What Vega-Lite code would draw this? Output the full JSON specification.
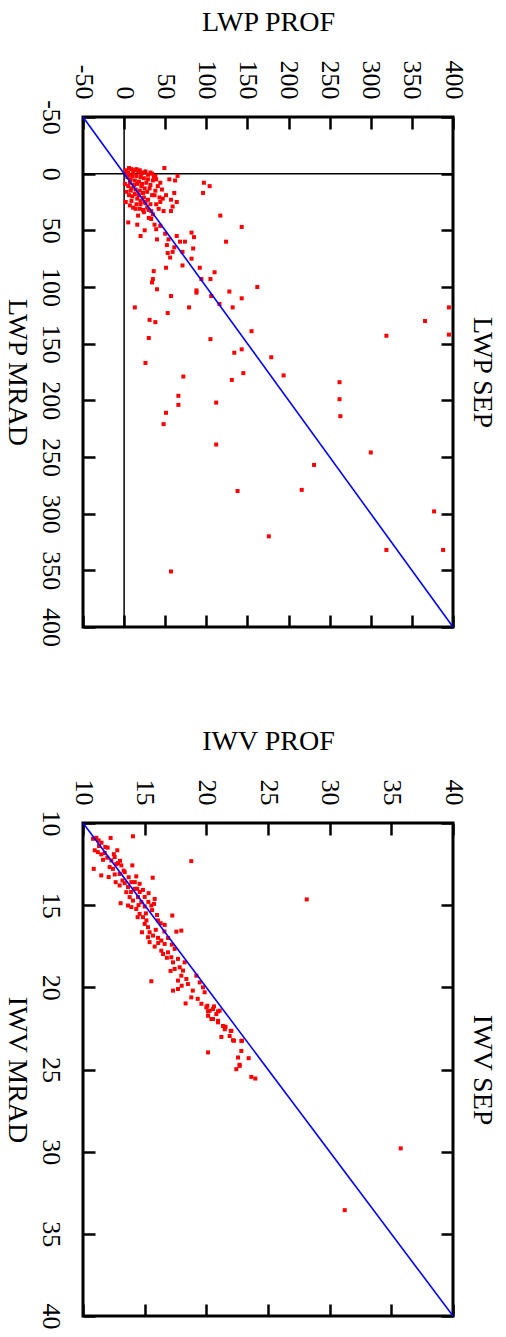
{
  "$schema": "https://vega.github.io/schema/vega-lite/v6.json",
  "padding": {"left": 0, "top": 6, "right": 6, "bottom": 0},
  "background": "white",
  "spacing": 77,
  "config": {
    "font": "Liberation Serif",
    "view": {"stroke": "black", "strokeWidth": 3},
    "axis": {
      "domain": false, "grid": false, "tickColor": "black", "tickWidth": 2.5, "tickSize": -12,
      "labelFontSize": 26, "labelColor": "black", "labelFont": "Liberation Serif",
      "titleFontSize": 28, "titleFontWeight": "normal", "titleColor": "black", "titleFont": "Liberation Serif",
      "labelFlush": false, "labelOverlap": false,
      "labelExpr": "datum.value < 0 ? '-' + abs(datum.value) : '' + datum.value"
    }
  },
  "datasets": {
    "zero": [{"v": 0}],
    "lwpDiag": [{"v": -50}, {"v": 400}],
    "iwvDiag": [{"v": 10}, {"v": 40}],
    "lwp": [
      {"p":30,"m":145},{"p":105,"m":146},{"p":155,"m":139},{"p":319,"m":143},{"p":395,"m":142},{"p":26,"m":167},{"p":134,"m":158},{"p":143,"m":155},{"p":179,"m":162},{"p":72,"m":179},{"p":131,"m":182},{"p":145,"m":176},{"p":194,"m":178},{"p":262,"m":184},{"p":262,"m":199},{"p":263,"m":214},{"p":66,"m":196},{"p":66,"m":204},{"p":112,"m":202},{"p":51,"m":211},{"p":48,"m":221},{"p":112,"m":239},{"p":300,"m":246},{"p":231,"m":257},{"p":138,"m":280},{"p":216,"m":279},{"p":377,"m":298},{"p":176,"m":320},{"p":319,"m":332},{"p":388,"m":332},{"p":57,"m":351},{"p":395,"m":118},{"p":366,"m":130},
      {"p":49,"m":-5},{"p":97,"m":8},{"p":104,"m":11},{"p":96,"m":17},{"p":55,"m":5},{"p":62,"m":6},{"p":65,"m":2},{"p":61,"m":17},{"p":117,"m":37},{"p":143,"m":47},{"p":124,"m":60},{"p":162,"m":100},{"p":143,"m":110},
      {"p":82,"m":52},{"p":85,"m":56},{"p":84,"m":66},{"p":64,"m":55},{"p":68,"m":60},{"p":74,"m":60},{"p":52,"m":63},{"p":61,"m":65},{"p":59,"m":69},{"p":53,"m":70},{"p":71,"m":69},{"p":56,"m":74},{"p":82,"m":75},{"p":71,"m":81},{"p":92,"m":83},{"p":110,"m":87},{"p":51,"m":83},{"p":36,"m":86},{"p":35,"m":93},{"p":34,"m":96},{"p":40,"m":102},{"p":57,"m":108},{"p":88,"m":103},{"p":88,"m":105},{"p":94,"m":93},{"p":105,"m":93},{"p":106,"m":108},{"p":116,"m":115},{"p":132,"m":118},{"p":128,"m":104},{"p":79,"m":118},{"p":53,"m":123},{"p":13,"m":118},{"p":31,"m":129},{"p":38,"m":131},
      {"p":40,"m":58},{"p":50,"m":53},{"p":54,"m":58},{"p":39,"m":49},{"p":44,"m":46},{"p":37,"m":45},{"p":25,"m":50},{"p":20,"m":55},{"p":5,"m":43},{"p":16,"m":45},{"p":30,"m":39},{"p":17,"m":37},{"p":23,"m":32},{"p":14,"m":31},{"p":20,"m":27},{"p":25,"m":25},{"p":30,"m":32},{"p":35,"m":36},{"p":33,"m":40},{"p":48,"m":33},{"p":57,"m":33},{"p":59,"m":29},{"p":64,"m":25},{"p":57,"m":23},{"p":51,"m":19},{"p":47,"m":22},{"p":39,"m":27},{"p":37,"m":19},{"p":41,"m":11},{"p":39,"m":5},{"p":38,"m":2},{"p":34,"m":0},{"p":23,"m":-1},{"p":17,"m":-2},{"p":6,"m":-5},{"p":12,"m":-3},{"p":3,"m":-1},
      {"p":2,"m":-3},{"p":5,"m":-1},{"p":9,"m":-4},{"p":11,"m":-1},{"p":15,"m":-4},{"p":19,"m":-3},{"p":21,"m":0},{"p":26,"m":-2},{"p":29,"m":1},{"p":32,"m":-1},{"p":36,"m":3},
      {"p":4,"m":3},{"p":6,"m":1},{"p":8,"m":5},{"p":10,"m":2},{"p":13,"m":6},{"p":15,"m":2},{"p":18,"m":7},{"p":20,"m":3},{"p":22,"m":9},{"p":24,"m":4},{"p":27,"m":8},{"p":29,"m":5},{"p":32,"m":10},{"p":35,"m":6},{"p":44,"m":8},
      {"p":1,"m":9},{"p":5,"m":11},{"p":7,"m":8},{"p":9,"m":13},{"p":12,"m":10},{"p":14,"m":14},{"p":16,"m":9},{"p":19,"m":15},{"p":21,"m":11},{"p":23,"m":17},{"p":25,"m":13},{"p":28,"m":16},{"p":31,"m":13},{"p":34,"m":19},{"p":38,"m":15},{"p":43,"m":21},{"p":46,"m":14},
      {"p":3,"m":16},{"p":6,"m":19},{"p":8,"m":15},{"p":10,"m":20},{"p":13,"m":18},{"p":16,"m":22},{"p":18,"m":19},{"p":20,"m":24},{"p":24,"m":21},{"p":26,"m":26},{"p":29,"m":23},{"p":32,"m":27},{"p":44,"m":25},
      {"p":2,"m":25},{"p":7,"m":28},{"p":9,"m":24},{"p":11,"m":30},{"p":15,"m":27},{"p":19,"m":31},{"p":24,"m":34},{"p":28,"m":30},{"p":33,"m":33},{"p":42,"m":31}
    ],
    "iwv": [
      {"p":10.81,"m":10.96},{"p":11.08,"m":10.9},{"p":11.27,"m":11.06},{"p":12.24,"m":10.91},{"p":14.05,"m":10.81},{"p":10.95,"m":11.66},{"p":11.2,"m":11.77},{"p":11.48,"m":11.91},{"p":11.76,"m":11.83},{"p":11.97,"m":12.11},{"p":11.62,"m":12.24},{"p":12.3,"m":12.28},{"p":12.57,"m":12.07},{"p":12.78,"m":11.66},{"p":11.81,"m":11.46},{"p":11.3,"m":11.4},{"p":12.84,"m":12.44},{"p":13.11,"m":12.58},{"p":12.16,"m":12.68},{"p":12.43,"m":12.79},{"p":10.87,"m":12.79},{"p":11.48,"m":13.19},{"p":12.08,"m":13.29},{"p":12.57,"m":13.13},{"p":12.97,"m":13.1},{"p":13.38,"m":12.99},{"p":14,"m":12.58},{"p":14.32,"m":13.25},{"p":15.65,"m":13.33},{"p":18.78,"m":12.32},{"p":12.65,"m":13.6},{"p":12.97,"m":13.8},{"p":13.38,"m":13.66},{"p":13.65,"m":13.9},{"p":13.92,"m":13.6},{"p":14.19,"m":14.01},{"p":14.59,"m":13.7},{"p":14.86,"m":14.07},{"p":15.32,"m":14.27},{"p":13.51,"m":14.21},{"p":13.78,"m":14.51},{"p":14.05,"m":14.72},{"p":15.81,"m":14.62},{"p":15.76,"m":14.92},{"p":14.46,"m":14.51},{"p":14.73,"m":14.82},{"p":13.05,"m":14.88},{"p":13.65,"m":15.02},{"p":13.92,"m":15.12},{"p":14.32,"m":15.23},{"p":15,"m":15.08},{"p":15.54,"m":15.02},{"p":14.59,"m":15.53},{"p":14.86,"m":15.73},{"p":14.43,"m":15.73},{"p":15.14,"m":15.93},{"p":16.08,"m":15.93},{"p":17.24,"m":15.63},{"p":16.62,"m":16.2},{"p":15,"m":16.14},{"p":15.27,"m":16.34},{"p":15.4,"m":16.65},{"p":14.78,"m":16.65},{"p":17.57,"m":16.61},{"p":17.97,"m":16.55},{"p":15.27,"m":16.95},{"p":15.68,"m":16.85},{"p":16.08,"m":16.99},{"p":16.35,"m":17.15},{"p":15.4,"m":17.25},{"p":16.62,"m":17.36},{"p":15.81,"m":17.52},{"p":16.35,"m":17.77},{"p":16.49,"m":17.97},{"p":16.89,"m":17.87},{"p":17.16,"m":18.17},{"p":17.43,"m":17.66},{"p":17.3,"m":18.48},{"p":17.7,"m":18.27},{"p":17.43,"m":18.88},{"p":17.84,"m":18.78},{"p":18.11,"m":18.98},{"p":18.24,"m":18.48},{"p":17.97,"m":19.29},{"p":17.7,"m":19.59},{"p":18.38,"m":19.49},{"p":18.51,"m":19.8},{"p":19.19,"m":19.29},{"p":19.46,"m":19.7},{"p":19.73,"m":20},{"p":17.3,"m":20.2},{"p":17.7,"m":20.1},{"p":15.54,"m":19.63},{"p":18.78,"m":20.61},{"p":19.86,"m":20.3},{"p":18.32,"m":20.98},{"p":20,"m":21.22},{"p":20.27,"m":21.42},{"p":20.54,"m":21.32},{"p":20.14,"m":21.73},{"p":20.41,"m":21.93},{"p":20.81,"m":21.63},{"p":20.95,"m":22.04},{"p":21.08,"m":21.42},{"p":21.35,"m":22.35},{"p":21.49,"m":22.55},{"p":22.03,"m":22.65},{"p":21.89,"m":22.96},{"p":22.16,"m":23.22},{"p":21.22,"m":23.02},{"p":22.84,"m":23.26},{"p":22.84,"m":23.87},{"p":22.57,"m":24.27},{"p":23.43,"m":24.31},{"p":22.7,"m":24.71},{"p":20.14,"m":23.96},{"p":22.43,"m":24.98},{"p":22.7,"m":24.78},{"p":23.65,"m":25.45},{"p":23.97,"m":25.55},{"p":22.24,"m":23.25},{"p":22.89,"m":23.25},{"p":21.98,"m":22.65},{"p":21.56,"m":22.4},{"p":20.95,"m":22.13},{"p":20.54,"m":21.93},{"p":20.14,"m":21.46},{"p":20.95,"m":21.46},{"p":20.08,"m":21.12},{"p":20.62,"m":21.16},{"p":35.76,"m":29.8},{"p":31.22,"m":33.56},{"p":28.14,"m":14.65},
      {"p":11.5,"m":11.2},{"p":12,"m":11.5},{"p":12.5,"m":11.9},{"p":13,"m":12.3},{"p":13.3,"m":12.9},{"p":13.7,"m":13.3},{"p":14.2,"m":13.6},{"p":14.6,"m":14.2},{"p":15,"m":14.5},{"p":15.3,"m":14.8},{"p":15.6,"m":15.3},{"p":16,"m":15.6},{"p":16.3,"m":16.1},{"p":16.6,"m":16.6},{"p":16.9,"m":17},{"p":17.2,"m":17.4},{"p":12.7,"m":12.5},{"p":13.9,"m":14.2},{"p":14.5,"m":15},{"p":15.1,"m":15.5},{"p":15.9,"m":16.5},{"p":16.1,"m":17.3},{"p":16.8,"m":18.2},{"p":17.1,"m":19},{"p":18,"m":19.9},{"p":18.9,"m":20.2},{"p":19.3,"m":20.7},{"p":19.6,"m":21},{"p":13.2,"m":13.5},{"p":14.4,"m":14}
    ]
  },
  "vconcat": [
    {
      "width": 370, "height": 510,
      "layer": [
        {"data": {"name": "zero"}, "mark": {"type": "rule", "color": "black", "strokeWidth": 1.5},
         "encoding": {"x": {"field": "v", "type": "quantitative", "scale": {"domain": [-50, 400], "nice": false, "zero": false}, "axis": null}}},
        {"data": {"name": "zero"}, "mark": {"type": "rule", "color": "black", "strokeWidth": 1.5},
         "encoding": {"y": {"field": "v", "type": "quantitative", "scale": {"domain": [-50, 400], "nice": false, "zero": false, "reverse": true}, "axis": null}}},
        {"data": {"name": "lwp"}, "mark": {"type": "square", "color": "#ff0000", "size": 16, "opacity": 1, "clip": true},
         "encoding": {
           "x": {"field": "p", "type": "quantitative", "scale": {"domain": [-50, 400], "nice": false, "zero": false},
                 "axis": {"orient": "top", "title": "LWP PROF", "values": [-50, 0, 50, 100, 150, 200, 250, 300, 350, 400], "labelAngle": 90, "labelAlign": "right", "labelBaseline": "middle", "labelPadding": 30, "titlePadding": 24}},
           "y": {"field": "m", "type": "quantitative", "scale": {"domain": [-50, 400], "nice": false, "zero": false, "reverse": true},
                 "axis": {"orient": "left", "title": "LWP MRAD", "values": [-50, 0, 50, 100, 150, 200, 250, 300, 350, 400], "labelAngle": 90, "labelAlign": "center", "labelBaseline": "top", "labelPadding": 32, "titleAngle": 90, "titleBaseline": "top", "titlePadding": 7}}
         }},
        {"data": {"name": "lwpDiag"}, "mark": {"type": "line", "color": "#0000ff", "strokeWidth": 1.6},
         "encoding": {
           "x": {"field": "v", "type": "quantitative", "scale": {"domain": [-50, 400], "nice": false, "zero": false},
                 "axis": {"orient": "bottom", "labels": false, "title": null, "values": [-50, 0, 50, 100, 150, 200, 250, 300, 350, 400]}},
           "y": {"field": "v", "type": "quantitative", "scale": {"domain": [-50, 400], "nice": false, "zero": false, "reverse": true},
                 "axis": {"orient": "right", "labels": false, "title": "LWP SEP", "values": [-50, 0, 50, 100, 150, 200, 250, 300, 350, 400], "titleAngle": 90, "titleBaseline": "bottom", "titlePadding": 13}}
         }}
      ],
      "resolve": {"axis": {"x": "independent", "y": "independent"}}
    },
    {
      "width": 370, "height": 493,
      "layer": [
        {"data": {"name": "iwv"}, "mark": {"type": "square", "color": "#ff0000", "size": 16, "opacity": 1, "clip": true},
         "encoding": {
           "x": {"field": "p", "type": "quantitative", "scale": {"domain": [10, 40], "nice": false, "zero": false},
                 "axis": {"orient": "top", "title": "IWV PROF", "values": [10, 15, 20, 25, 30, 35, 40], "labelAngle": 90, "labelAlign": "right", "labelBaseline": "middle", "labelPadding": 30, "titlePadding": 24}},
           "y": {"field": "m", "type": "quantitative", "scale": {"domain": [10, 40], "nice": false, "zero": false, "reverse": true},
                 "axis": {"orient": "left", "title": "IWV MRAD", "values": [10, 15, 20, 25, 30, 35, 40], "labelAngle": 90, "labelAlign": "center", "labelBaseline": "top", "labelPadding": 32, "titleAngle": 90, "titleBaseline": "top", "titlePadding": 7}}
         }},
        {"data": {"name": "iwvDiag"}, "mark": {"type": "line", "color": "#0000ff", "strokeWidth": 1.6},
         "encoding": {
           "x": {"field": "v", "type": "quantitative", "scale": {"domain": [10, 40], "nice": false, "zero": false},
                 "axis": {"orient": "bottom", "labels": false, "title": null, "values": [10, 15, 20, 25, 30, 35, 40]}},
           "y": {"field": "v", "type": "quantitative", "scale": {"domain": [10, 40], "nice": false, "zero": false, "reverse": true},
                 "axis": {"orient": "right", "labels": false, "title": "IWV SEP", "values": [10, 15, 20, 25, 30, 35, 40], "titleAngle": 90, "titleBaseline": "bottom", "titlePadding": 13}}
         }}
      ],
      "resolve": {"axis": {"x": "independent", "y": "independent"}}
    }
  ]
}
